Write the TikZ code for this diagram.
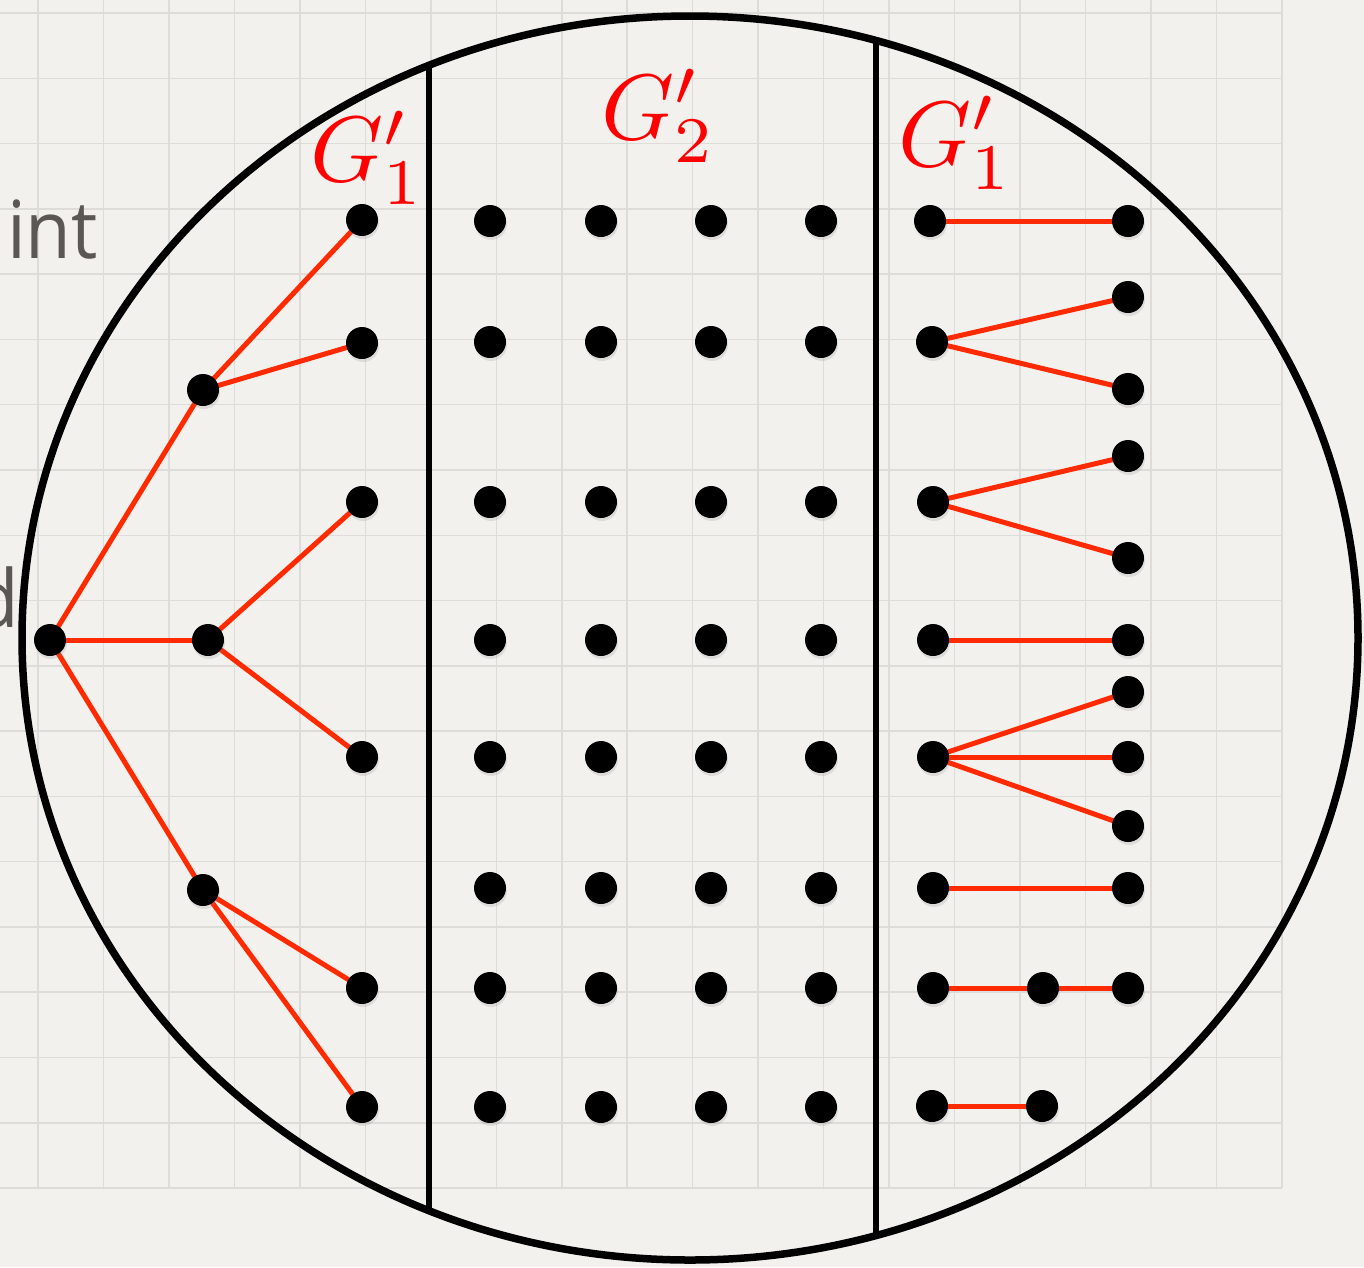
\documentclass[tikz,border=0pt]{standalone}
\usepackage{fontspec}
\newfontfamily\slidefont{Open Sans}
\usetikzlibrary{shadows}
\pgfdeclarelayer{back}
\pgfdeclarelayer{edges}
\pgfsetlayers{back,edges,main}
\definecolor{paper}{HTML}{F2F1EE}
\definecolor{gridc}{HTML}{DDDCD8}
\definecolor{edgered}{HTML}{FF2A00}
\definecolor{slidegray}{HTML}{5A5755}
\begin{document}
\begin{tikzpicture}[x=1pt,y=-1pt,
  dot/.style={circle,fill=black,minimum size=32pt,inner sep=0pt,
    drop shadow={shadow xshift=1pt,shadow yshift=-3pt,opacity=0.18}},
  redge/.style={draw=edgered,line width=5pt},
  lbl/.style={text=red,scale=9.3,inner sep=0pt,anchor=base west},
  slidetxt/.style={text=slidegray,font=\slidefont\fontsize{80}{90}\selectfont,inner sep=0pt,anchor=base east,xscale=0.93},
  outline/.style={draw=black,line width=7.5pt},
  divider/.style={draw=black,line width=6.5pt}]
\useasboundingbox (0,0) rectangle (1364,1267);
\begin{pgfonlayer}{back}
  \fill[paper] (0,0) rectangle (1364,1267);
  \foreach \k in {0,...,19} {
    \draw[gridc,line width=1.5pt] ({38+65.47*\k},0) -- ({38+65.47*\k},1188);
  }
  \foreach \k in {0,...,18} {
    \draw[gridc,line width=1.5pt] (0,{13+65.28*\k}) -- (1282,{13+65.28*\k});
  }
  \draw[outline] (690,638) ellipse [x radius=668, y radius=622];
  \begin{scope}
    \clip (690,638) ellipse [x radius=668, y radius=622];
    \draw[divider] (429,0) -- (429,1267);
    \draw[divider] (876,0) -- (876,1267);
  \end{scope}
\end{pgfonlayer}

% partial slide text
\node[slidetxt] (t1) at (98,258) {int};
\node[slidetxt] (t2) at (19,627) {d};

% labels
\node[lbl] (g1l) at (309,181) {$G'_1$};
\node[lbl] (g2) at (600,139) {$G'_2$};
\node[lbl] (g1r) at (897,166) {$G'_1$};

% left tree
\node[dot] (L0) at (50,640) {};
\node[dot] (La) at (203,390) {};
\node[dot] (Lb) at (208,640) {};
\node[dot] (Lc) at (203,890) {};
\node[dot] (L1) at (362,220) {};
\node[dot] (L2) at (362,343) {};
\node[dot] (L3) at (362,502) {};
\node[dot] (L4) at (362,757) {};
\node[dot] (L5) at (362,988) {};
\node[dot] (L6) at (362,1107) {};

% middle grid
\foreach \cx [count=\ci] in {490,601,711,821} {
  \foreach \ry [count=\ri] in {221,342,502,640,757,888,988,1107} {
    \node[dot] (M\ci-\ri) at (\cx,\ry) {};
  }
}

% right side
\node[dot] (A0) at (930,221) {};
\node[dot] (A1) at (1128,221) {};
\node[dot] (B0) at (932,342) {};
\node[dot] (B1) at (1128,297) {};
\node[dot] (B2) at (1128,389) {};
\node[dot] (C0) at (933,502) {};
\node[dot] (C1) at (1128,456) {};
\node[dot] (C2) at (1128,558) {};
\node[dot] (D0) at (933,640) {};
\node[dot] (D1) at (1128,640) {};
\node[dot] (E0) at (933,757) {};
\node[dot] (E1) at (1128,692) {};
\node[dot] (E2) at (1128,757) {};
\node[dot] (E3) at (1128,826) {};
\node[dot] (F0) at (933,888) {};
\node[dot] (F1) at (1128,888) {};
\node[dot] (H0) at (933,988) {};
\node[dot] (H1) at (1043,988) {};
\node[dot] (H2) at (1128,988) {};
\node[dot] (K0) at (932,1106) {};
\node[dot] (K1) at (1042,1106) {};

\begin{pgfonlayer}{edges}
  \draw[redge] (L0.center) -- (La.center);
  \draw[redge] (L0.center) -- (Lb.center);
  \draw[redge] (L0.center) -- (Lc.center);
  \draw[redge] (La.center) -- (L1.center);
  \draw[redge] (La.center) -- (L2.center);
  \draw[redge] (Lb.center) -- (L3.center);
  \draw[redge] (Lb.center) -- (L4.center);
  \draw[redge] (Lc.center) -- (L5.center);
  \draw[redge] (Lc.center) -- (L6.center);
  \draw[redge] (A0.center) -- (A1.center);
  \draw[redge] (B0.center) -- (B1.center);
  \draw[redge] (B0.center) -- (B2.center);
  \draw[redge] (C0.center) -- (C1.center);
  \draw[redge] (C0.center) -- (C2.center);
  \draw[redge] (D0.center) -- (D1.center);
  \draw[redge] (E0.center) -- (E1.center);
  \draw[redge] (E0.center) -- (E2.center);
  \draw[redge] (E0.center) -- (E3.center);
  \draw[redge] (F0.center) -- (F1.center);
  \draw[redge] (H0.center) -- (H1.center);
  \draw[redge] (H1.center) -- (H2.center);
  \draw[redge] (K0.center) -- (K1.center);
\end{pgfonlayer}
\end{tikzpicture}
\end{document}
